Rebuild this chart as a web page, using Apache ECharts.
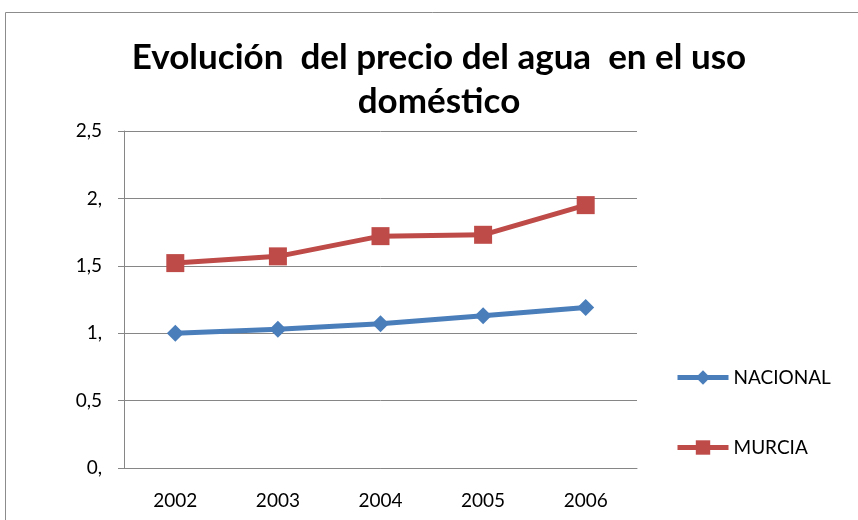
<!DOCTYPE html>
<html>
<head>
<meta charset="utf-8">
<script src="https://cdn.jsdelivr.net/npm/echarts@6/dist/echarts.min.js"></script>
<style>
  html, body { margin: 0; padding: 0; background: #fff; }
  #chart { width: 858px; height: 520px; }
</style>
</head>
<body>
<div id="chart"></div>
<script>
const years = ['2002', '2003', '2004', '2005', '2006'];
const nacional = [1.00, 1.03, 1.07, 1.13, 1.19];
const murcia = [1.52, 1.57, 1.72, 1.73, 1.95];

const fontFamily = 'Lato, "Open Sans", sans-serif';
const axisGray = '#868686';

// excel style decimal labels: "0," "0,5" "1," ...
function spanishTick(v) {
  const s = String(v).split('.');
  return s[0] + ',' + (s[1] || '');
}

const option = {
  animation: false,
  backgroundColor: '#fff',
  title: {
    text: 'Evolución  del precio del agua  en el uso\ndoméstico',
    left: 434,
    top: 31,
    textAlign: 'center',
    textStyle: {
      fontFamily,
      fontWeight: 'bold',
      fontSize: 35,
      lineHeight: 44,
      color: '#000',
    },
  },
  grid: { left: 124, right: 221, top: 131, bottom: 52 },
  legend: {
    orient: 'vertical',
    left: 675,
    top: 368,
    padding: 0,
    itemWidth: 51,
    itemHeight: 18,
    itemGap: 51,
    lineStyle: { width: 5 },
    textStyle: { fontFamily, fontSize: 19, color: '#000', lineHeight: 18 },
    data: ['NACIONAL', 'MURCIA'],
  },
  xAxis: {
    type: 'category',
    data: years,
    boundaryGap: true,
    axisLine: { lineStyle: { color: axisGray, width: 1 } },
    axisTick: { length: 6, lineStyle: { color: axisGray } },
    axisLabel: { fontFamily, fontSize: 19, color: '#000', margin: 23 },
  },
  yAxis: {
    type: 'value',
    min: 0,
    max: 2.5,
    interval: 0.5,
    axisLine: { show: true, lineStyle: { color: axisGray, width: 1 } },
    axisTick: { show: true, length: 6, lineStyle: { color: axisGray } },
    splitLine: { lineStyle: { color: axisGray, width: 1 } },
    axisLabel: { fontFamily, fontSize: 19, color: '#000', margin: 22, formatter: spanishTick },
  },
  graphic: [{
    type: 'rect',
    shape: { x: 5.5, y: 12.5, width: 900, height: 600 },
    style: { fill: 'none', stroke: '#8c8c8c', lineWidth: 1 },
    silent: true,
  }],
  series: [
    {
      name: 'NACIONAL',
      type: 'line',
      data: nacional,
      symbol: 'diamond',
      symbolSize: 17,
      lineStyle: { color: '#4a7ebb', width: 5 },
      itemStyle: { color: '#4a7ebb' },
    },
    {
      name: 'MURCIA',
      type: 'line',
      data: murcia,
      symbol: 'rect',
      symbolSize: 18,
      lineStyle: { color: '#be4b48', width: 5 },
      itemStyle: { color: '#be4b48' },
    },
  ],
};

const myChart = echarts.init(document.getElementById('chart'));
myChart.setOption(option);
</script>
</body>
</html>
